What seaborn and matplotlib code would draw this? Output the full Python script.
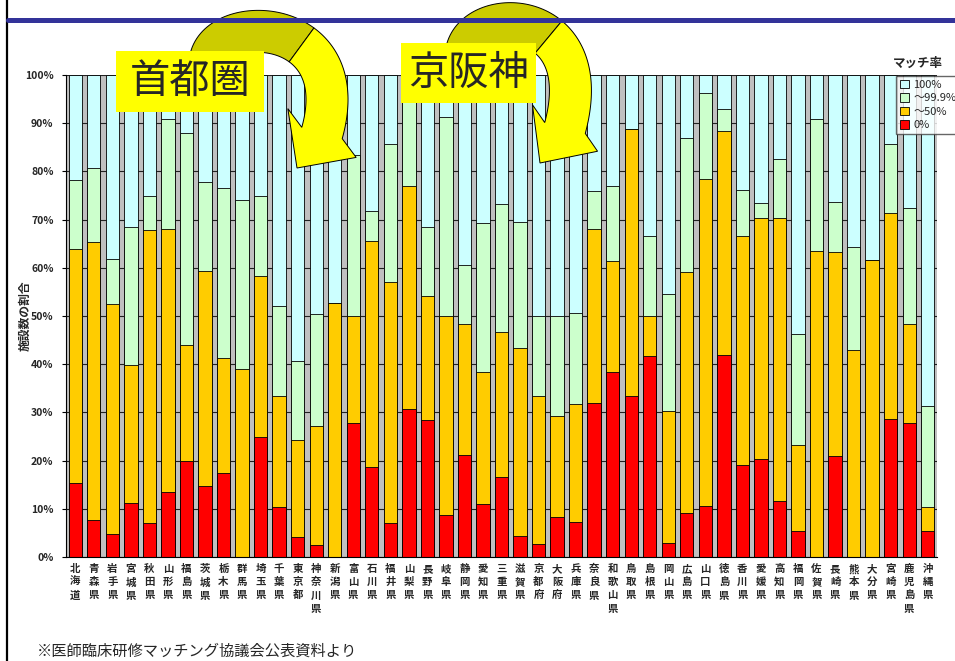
import matplotlib
matplotlib.use("Agg")
import matplotlib.pyplot as plt
import numpy as np
import pandas as pd
import seaborn as sns
from matplotlib.patches import Patch, Rectangle, Polygon
from matplotlib.lines import Line2D

# data: share of facilities (%) by match rate, per prefecture
prefectures = ["北海道", "青森県", "岩手県", "宮城県", "秋田県", "山形県", "福島県",
               "茨城県", "栃木県", "群馬県", "埼玉県", "千葉県", "東京都", "神奈川県",
               "新潟県", "富山県", "石川県", "福井県", "山梨県", "長野県", "岐阜県",
               "静岡県", "愛知県", "三重県", "滋賀県", "京都府", "大阪府", "兵庫県",
               "奈良県", "和歌山県", "鳥取県", "島根県", "岡山県", "広島県", "山口県",
               "徳島県", "香川県", "愛媛県", "高知県", "福岡県", "佐賀県", "長崎県",
               "熊本県", "大分県", "宮崎県", "鹿児島県", "沖縄県"]
share_0 = [15.4, 7.6, 4.8, 11.3, 7.1, 13.5, 19.9, 14.8, 17.5, 0.0, 24.8, 10.4, 4.2, 2.4,
           0.0, 27.8, 18.6, 7.1, 30.7, 28.5, 8.8, 21.2, 10.9, 16.6, 4.3, 2.7, 8.4, 7.3,
           32.0, 38.4, 33.3, 41.6, 3.0, 9.2, 10.5, 41.9, 19.0, 20.4, 11.7, 5.3, 0.0, 21.0,
           0.0, 0.0, 28.6, 27.7, 5.3]
share_50 = [48.5, 57.7, 47.6, 28.6, 60.7, 54.6, 24.0, 44.5, 23.7, 39.1, 33.4, 22.9, 20.0, 24.7,
            52.8, 22.1, 46.9, 50.0, 46.2, 25.7, 41.1, 27.2, 27.5, 30.0, 39.1, 30.6, 20.8, 24.5,
            36.0, 23.1, 55.6, 8.3, 27.2, 50.0, 68.0, 46.5, 47.6, 50.0, 58.7, 17.9, 63.5, 42.2,
            42.9, 61.6, 42.8, 20.6, 5.1]
share_999 = [14.4, 15.5, 9.5, 28.5, 7.1, 22.8, 44.1, 18.6, 35.4, 34.9, 16.7, 18.7, 16.4, 23.4,
             0.0, 33.4, 6.3, 28.6, 19.1, 14.3, 41.3, 12.2, 30.8, 26.7, 26.2, 16.7, 20.8, 18.9,
             8.0, 15.5, 0.0, 16.7, 24.3, 27.8, 17.8, 4.6, 9.6, 3.0, 12.1, 23.1, 27.4, 10.4,
             21.4, 0.0, 14.3, 24.1, 21.0]
legend_labels = ["100%", "～99.9%", "～50%", "0%"]
colors = ["#CCFFFF", "#CCFFCC", "#FFCC00", "#FF0000"]

df = pd.DataFrame({"pref": prefectures, "p0": share_0, "p50": share_50, "p999": share_999})
df["top_50"] = df["p0"] + df["p50"]
df["top_999"] = df["top_50"] + df["p999"]
df["top_100"] = 100.0

sns.set_style("white")
plt.rcParams["font.family"] = ["Noto Sans CJK JP", "DejaVu Sans"]

W, H = 955, 661
fig = plt.figure(figsize=(W / 100, H / 100), dpi=100)


def fx(px):
    return px / W


def fy(py):
    return 1 - py / H


ax = fig.add_axes([fx(66), fy(557), fx(871), 482 / H])
ax.set_facecolor("#C0C0C0")

# stacked bars: draw cumulative totals from the top down
for col, c in zip(["top_100", "top_999", "top_50", "p0"], colors):
    sns.barplot(data=df, x="pref", y=col, color=c, saturation=1, width=0.72,
                edgecolor="black", linewidth=0.6, errorbar=None, ax=ax)

ax.set_xlim(-0.5, len(prefectures) - 0.5)
ax.set_ylim(0, 100)
ax.set_yticks(range(0, 101, 10))
ax.set_yticklabels([f"{v}%" for v in range(0, 101, 10)], fontsize=7.5, fontweight="bold")
ax.set_xticks(range(len(prefectures)))
ax.set_xticklabels(["\n".join(p) for p in prefectures], fontsize=7.5,
                   fontweight="bold", linespacing=1.4)
ax.set_xticks([i + 0.5 for i in range(len(prefectures) - 1)], minor=True)
ax.tick_params(axis="x", which="major", length=0, pad=5)
ax.tick_params(axis="x", which="minor", length=3, direction="in", color="black")
ax.tick_params(axis="y", length=3, pad=6, color="black", left=True)
ax.yaxis.grid(True, color="#222222", linewidth=0.8)
ax.set_axisbelow(True)
ax.set_xlabel("")
ax.set_ylabel("")
for s in ["top", "right"]:
    ax.spines[s].set_visible(False)
for s in ["left", "bottom"]:
    ax.spines[s].set_color("black")
    ax.spines[s].set_linewidth(0.8)

fig.text(fx(25), fy(316), "施設数の割合", rotation=90, ha="center", va="center",
         fontsize=8.5, fontweight="bold")

# legend
handles = [Patch(facecolor=c, edgecolor="black", linewidth=0.6) for c in colors]
fig.legend(handles, legend_labels, loc="upper left", bbox_to_anchor=(fx(896), fy(76)),
           fontsize=8, frameon=True, fancybox=False, edgecolor="#404040",
           handlelength=0.8, handleheight=0.8, handletextpad=0.4, borderpad=0.35,
           labelspacing=0.3, borderaxespad=0)
fig.text(fx(918), fy(63), "マッチ率", ha="center", va="center", fontsize=9, fontweight="bold")

# frame decorations
fig.add_artist(Line2D([fx(7), fx(7)], [0, 1], color="black", linewidth=1.6))
fig.add_artist(Line2D([fx(8), 1], [fy(20), fy(20)], color="#333399", linewidth=3.6))

fig.text(fx(37), fy(651), "※医師臨床研修マッチング協議会公表資料より",
         ha="left", va="center", fontsize=11)


# curved callout arrow: olive back part, yellow front part with head (pixel coords)
def curved_arrow(ctrl, tip, width=42, head_w=84, split=0.62):
    p = np.array(ctrl, dtype=float)

    def bez(t):
        t = t[:, None]
        return ((1 - t) ** 3 * p[0] + 3 * t * (1 - t) ** 2 * p[1]
                + 3 * t ** 2 * (1 - t) * p[2] + t ** 3 * p[3])

    def dbez(t):
        t = t[:, None]
        return (3 * (1 - t) ** 2 * (p[1] - p[0]) + 6 * t * (1 - t) * (p[2] - p[1])
                + 3 * t ** 2 * (p[3] - p[2]))

    def sides(t):
        pts, d = bez(t), dbez(t)
        n = np.stack([-d[:, 1], d[:, 0]], axis=1)
        n /= np.linalg.norm(n, axis=1, keepdims=True)
        return pts + n * width / 2, pts - n * width / 2, n[-1]

    def to_fig(pts):
        pts = np.asarray(pts)
        return np.column_stack([pts[:, 0] / W, 1 - pts[:, 1] / H])

    t1 = np.linspace(0, split, 50)
    l1, r1, _ = sides(t1)
    back = np.vstack([l1, r1[::-1]])
    fig.add_artist(Polygon(to_fig(back), closed=True, transform=fig.transFigure,
                           facecolor="#CCCC00", edgecolor="black", linewidth=0.7))

    t2 = np.linspace(split, 1, 50)
    l2, r2, n_end = sides(t2)
    base = p[3]
    tipv = np.array(tip, dtype=float)
    a = (tipv - base) / np.linalg.norm(tipv - base)
    perp = np.array([-a[1], a[0]])
    if np.dot(perp, n_end) < 0:
        perp = -perp
    barb_l = base + perp * head_w / 2
    barb_r = base - perp * head_w / 2
    front = np.vstack([l2, [barb_l], [tipv], [barb_r], r2[::-1]])
    fig.add_artist(Polygon(to_fig(front), closed=True, transform=fig.transFigure,
                           facecolor="#FFFF00", edgecolor="black", linewidth=0.7))


curved_arrow([(210, 62), (215, 12), (355, 15), (322, 133)], (297, 168))
curved_arrow([(466, 55), (470, 5), (598, 5), (565, 128)], (540, 163), head_w=80)


def label_box(x0, y0, x1, y1, text):
    fig.add_artist(Rectangle((fx(x0), fy(y1)), fx(x1 - x0), (y1 - y0) / H,
                             transform=fig.transFigure, facecolor="#FFFF00",
                             edgecolor="none"))
    fig.text(fx((x0 + x1) / 2), fy((y0 + y1) / 2), text, ha="center", va="center",
             fontsize=29)


label_box(116, 51, 264, 112, "首都圏")
label_box(401, 43, 536, 103, "京阪神")

fig.savefig("out.png", dpi=100)
